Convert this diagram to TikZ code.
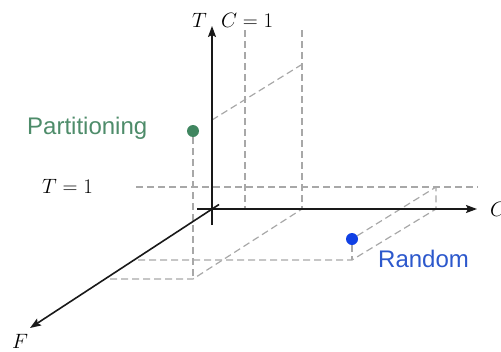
\documentclass[tikz,border=0pt]{standalone}
\usepackage{fontspec}
\setsansfont{Liberation Sans}
\usetikzlibrary{arrows.meta}
\definecolor{pgreen}{RGB}{64,134,96}
\definecolor{ptext}{RGB}{78,140,106}
\definecolor{rblue}{RGB}{16,64,228}
\definecolor{rtext}{RGB}{44,88,204}
\definecolor{dgray}{RGB}{168,168,168}
\definecolor{axcol}{RGB}{25,25,25}
\tikzset{
  axis/.style={draw=axcol, line width=1.6pt},
  axisarrow/.style={axis, -{Stealth[length=11pt,width=8pt,inset=2pt]}},
  guide/.style={draw=dgray, line width=1.2pt, dash pattern=on 7pt off 4pt},
  mathlbl/.style={inner sep=0pt, anchor=base west, font=\fontsize{20}{24}\selectfont},
  ptlabel/.style={inner sep=0pt, anchor=base west, font=\sffamily\fontsize{24}{28}\selectfont},
  dot/.style={circle, inner sep=0pt, minimum size=12pt}
}
\begin{document}
\begin{tikzpicture}[x=1pt,y=-1pt]
\useasboundingbox (0,0) rectangle (501,351);
% coordinates
\coordinate (O) at (212,209);
\coordinate (Tlow) at (212,225);
\coordinate (Ttip) at (212,26);
\coordinate (Clow) at (197,209);
\coordinate (Ctip) at (477,209);
\coordinate (Fback) at (219,204.5);
\coordinate (Ftip) at (30,328);
\coordinate (T1a) at (136,187);
\coordinate (T1b) at (478,187);
\coordinate (Va1) at (245,30);
\coordinate (Va2) at (245,209);
\coordinate (Vb1) at (302,30);
\coordinate (Vb2) at (302,209);
\coordinate (Tdiag) at (212,120);
\coordinate (Vbtop) at (301,65);
\coordinate (Pbot) at (193,279);
\coordinate (Hlow) at (110,279);
\coordinate (Hmid) at (138,260);
\coordinate (Rbot) at (352,260);
\coordinate (Rc) at (436,209);
\coordinate (Rt) at (436,187);
% guides
\draw[guide] (T1a) -- (T1b);
\draw[guide] (Va1) -- (Va2);
\draw[guide] (Vb1) -- (Vb2);
\draw[guide] (Tdiag) -- (Vbtop);
\draw[guide] (Hlow) -- (Pbot) -- (Vb2);
\draw[guide] (Hmid) -- (Rbot) -- (Rc) -- (Rt);
% points
\node[dot, fill=pgreen] (P) at (193,131) {};
\node[dot, fill=rblue] (R) at (352,239) {};
\draw[guide] (P) -- (Pbot);
\draw[guide] (R) -- (Rbot);
\draw[guide] (R) -- (Rt);
% axes
\draw[axisarrow] (Tlow) -- (Ttip);
\draw[axisarrow] (Clow) -- (Ctip);
\draw[axisarrow] (Fback) -- (Ftip);
% labels
\node[mathlbl] (Tl) at (192,27) {$T$};
\node[mathlbl] (C1) at (221,27) {$C=1$};
\node[mathlbl] (T1) at (42,193) {$T=1$};
\node[mathlbl] (Fl) at (12,348) {$F$};
\node[mathlbl] (Cl) at (490,216) {$C$};
\node[ptlabel, text=ptext] (Pl) at (27,134) {Partitioning};
\node[ptlabel, text=rtext] (Rl) at (378,267) {Random};
\end{tikzpicture}
\end{document}
